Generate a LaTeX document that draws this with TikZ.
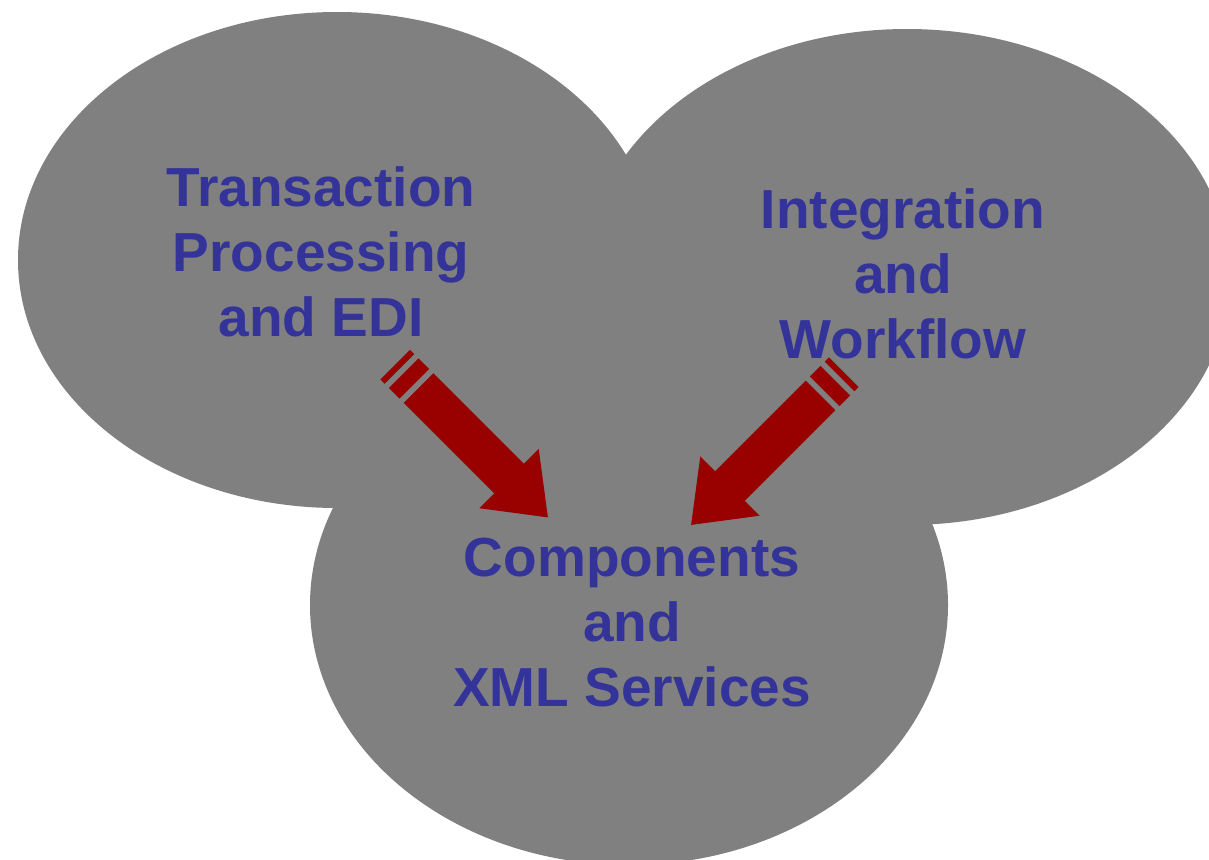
\documentclass[tikz,border=0pt]{standalone}
\usepackage{fontspec}
\setmainfont{Liberation Sans}
\definecolor{blobgray}{HTML}{808080}
\definecolor{txtblue}{HTML}{333399}
\definecolor{arrowred}{HTML}{990000}
\tikzset{
  blob/.style={fill=blobgray, draw=none},
  label/.style={text=txtblue, font=\fontsize{55}{65}\selectfont\bfseries, align=center, inner sep=0pt},
  blockarrow/.style={fill=arrowred, draw=none}
}
\newcommand{\stripedarrow}{%
  \fill[blockarrow] (0,-21) -- (128,-21) -- (128,-42) -- (183,0) -- (128,42) -- (128,21) -- (0,21) -- cycle;
  \fill[blockarrow] (-21,-21) rectangle (-6,21);
  \fill[blockarrow] (-33,-21) rectangle (-27,21);
}
\begin{document}
\begin{tikzpicture}[x=1pt,y=-1pt]
\useasboundingbox (0,0) rectangle (1209,859);
\clip (0,0) rectangle (1209,859);
\fill[blob] (337,260) ellipse [x radius=319, y radius=248];
\fill[blob] (907,277) ellipse [x radius=323, y radius=248];
\fill[blob] (629,605) ellipse [x radius=319, y radius=260];
\begin{scope}[shift={(418.5,388)}, rotate=-45]
  \stripedarrow
\end{scope}
\begin{scope}[shift={(820.5,395.5)}, rotate=-135]
  \stripedarrow
\end{scope}
\node[label] (tp) at (321,252) {Transaction\\Processing\\and EDI};
\node[label] (iw) at (903,274) {Integration\\and\\Workflow};
\node[label] (cx) at (632,623) {Components\\and\\XML Services};
\end{tikzpicture}
\end{document}
